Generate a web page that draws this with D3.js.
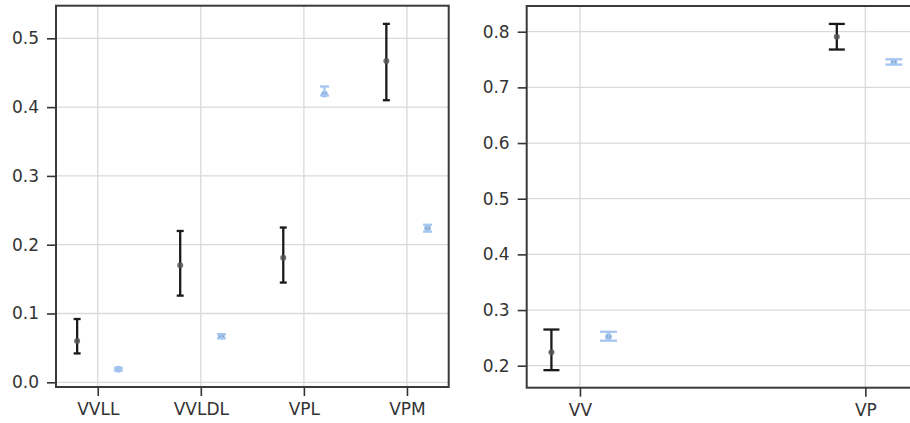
<!DOCTYPE html>
<html>
<head>
<meta charset="utf-8">
<script src="https://cdn.jsdelivr.net/npm/d3@7"></script>
<style>
  body { margin: 0; background: #fff; }
  svg { display: block; }
</style>
</head>
<body>
<svg id="chart" width="910" height="423"></svg>
<script>
// left panel
const leftCategories = ["VVLL", "VVLDL", "VPL", "VPM"];
const leftDarkMean = [0.060, 0.170, 0.181, 0.467];
const leftDarkLow = [0.042, 0.126, 0.145, 0.410];
const leftDarkHigh = [0.092, 0.220, 0.225, 0.521];
const leftBlueMean = [0.019, 0.067, 0.419, 0.224];
const leftBlueLow = [0.017, 0.064, 0.417, 0.219];
const leftBlueHigh = [0.021, 0.070, 0.430, 0.229];
const leftTicks = [0.0, 0.1, 0.2, 0.3, 0.4, 0.5];

// right panel
const rightCategories = ["VV", "VP"];
const rightDarkMean = [0.224, 0.791];
const rightDarkLow = [0.192, 0.768];
const rightDarkHigh = [0.265, 0.814];
const rightBlueMean = [0.252, 0.7455];
const rightBlueLow = [0.245, 0.741];
const rightBlueHigh = [0.261, 0.7505];
const rightTicks = [0.2, 0.3, 0.4, 0.5, 0.6, 0.7, 0.8];

const svg = d3.select("#chart");
const font = "DejaVu Sans, sans-serif";

function drawPanel(opts) {
  const x = d3.scaleLinear().domain(opts.xDomain).range([opts.left, opts.right]);
  const y = d3.scaleLinear().domain(opts.yDomain).range([opts.bottom, opts.top]);
  const g = svg.append("g");

  // grid
  g.append("g").selectAll("line")
    .data(opts.yTicks)
    .join("line")
    .attr("x1", opts.left).attr("x2", opts.right)
    .attr("y1", (d) => y(d)).attr("y2", (d) => y(d))
    .attr("stroke", "#d9d9d9").attr("stroke-width", 1.3);
  g.append("g").selectAll("line")
    .data(opts.categories.map((c, i) => i))
    .join("line")
    .attr("x1", (d) => x(d)).attr("x2", (d) => x(d))
    .attr("y1", opts.top).attr("y2", opts.bottom)
    .attr("stroke", "#d9d9d9").attr("stroke-width", 1.3);

  const rows = opts.categories.map((c, i) => ({ i }));

  function errorBars(series, offset, color, width, cap) {
    const eg = g.append("g").attr("stroke", color).attr("stroke-width", width);
    rows.forEach(({ i }) => {
      const cx = x(i + offset);
      eg.append("line")
        .attr("x1", cx).attr("x2", cx)
        .attr("y1", y(series.low[i])).attr("y2", y(series.high[i]));
      [series.low[i], series.high[i]].forEach((v) => {
        eg.append("line")
          .attr("x1", cx - cap).attr("x2", cx + cap)
          .attr("y1", y(v)).attr("y2", y(v));
      });
    });
  }

  function points(series, offset, fill, r, alpha) {
    g.append("g").selectAll("circle")
      .data(series.mean)
      .join("circle")
      .attr("cx", (d, i) => x(i + offset))
      .attr("cy", (d) => y(d))
      .attr("r", r)
      .attr("fill", fill)
      .attr("fill-opacity", alpha);
  }

  errorBars(opts.dark, -opts.dodge, "#1a1a1a", 2.3, opts.darkCap);
  points(opts.dark, -opts.dodge, "#555", 3, 0.85);
  points(opts.blue, opts.dodge, "#9cc2ee", 3.4, 1);
  points(opts.blue, opts.dodge, "#666", 2, 0.6);
  errorBars(opts.blue, opts.dodge, "#a4c6f0", 2.3, opts.blueCap);

  // axes
  const yAxis = d3.axisLeft(y)
    .tickValues(opts.yTicks)
    .tickFormat(d3.format(".1f"))
    .tickSize(9)
    .tickPadding(8);
  const xAxis = d3.axisBottom(x)
    .tickValues(opts.categories.map((c, i) => i))
    .tickFormat((i) => opts.categories[i])
    .tickSize(9)
    .tickPadding(7);

  const ya = g.append("g").attr("transform", `translate(${opts.left},0)`).call(yAxis);
  const xa = g.append("g").attr("transform", `translate(0,${opts.bottom})`).call(xAxis);
  [ya, xa].forEach((a) => {
    a.select(".domain").remove();
    a.selectAll(".tick line").attr("stroke", "#333").attr("stroke-width", 1.6);
    a.selectAll(".tick text")
      .attr("fill", "#333")
      .style("font-family", font)
      .style("font-size", "17px");
  });

  // frame
  g.append("rect")
    .attr("x", opts.left).attr("y", opts.top)
    .attr("width", opts.right - opts.left)
    .attr("height", opts.bottom - opts.top)
    .attr("fill", "none")
    .attr("stroke", "#3a3a3a")
    .attr("stroke-width", 2);
}

drawPanel({
  categories: leftCategories,
  xDomain: [-0.405, 3.405],
  yDomain: [-0.0068, 0.5474],
  left: 56, right: 448.7, top: 5.7, bottom: 387,
  yTicks: leftTicks,
  dodge: 0.2,
  darkCap: 3.5,
  blueCap: 4.5,
  dark: { mean: leftDarkMean, low: leftDarkLow, high: leftDarkHigh },
  blue: { mean: leftBlueMean, low: leftBlueLow, high: leftBlueHigh }
});

drawPanel({
  categories: rightCategories,
  xDomain: [-0.1866, 1.1866],
  yDomain: [0.1605, 0.8462],
  left: 526.7, right: 918.6, top: 6, bottom: 387.7,
  yTicks: rightTicks,
  dodge: 0.1,
  darkCap: 8,
  blueCap: 8.5,
  dark: { mean: rightDarkMean, low: rightDarkLow, high: rightDarkHigh },
  blue: { mean: rightBlueMean, low: rightBlueLow, high: rightBlueHigh }
});
</script>
</body>
</html>
